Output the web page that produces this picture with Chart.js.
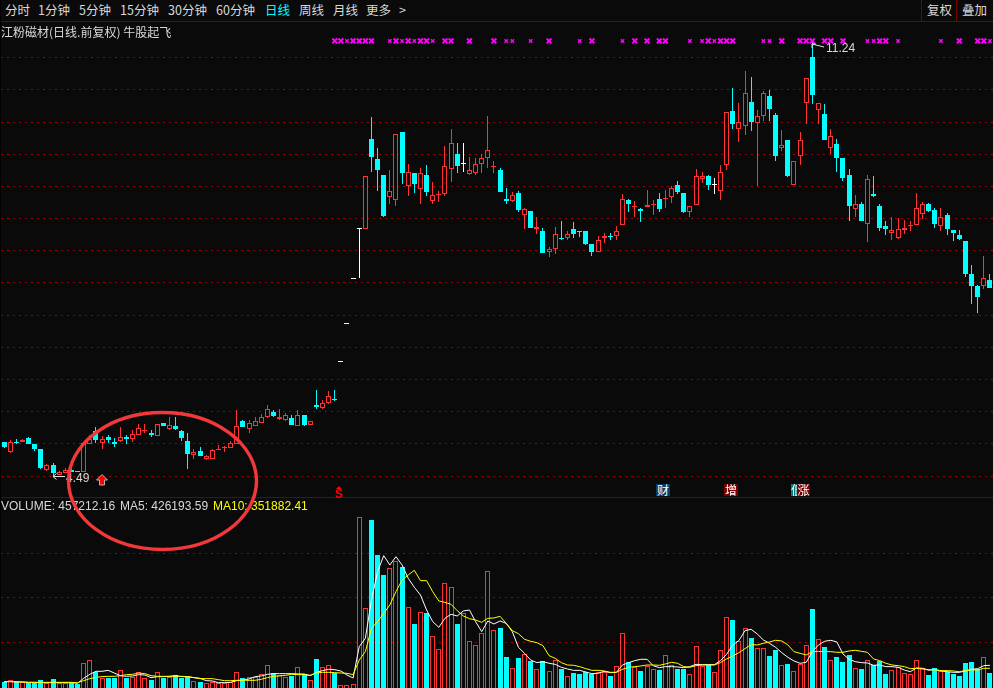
<!DOCTYPE html>
<html lang="zh">
<head>
<meta charset="utf-8">
<title>江粉磁材 日线</title>
<script src="https://cdn.jsdelivr.net/npm/chart.js@4/dist/chart.umd.min.js"></script>
<style>
html,body{margin:0;padding:0;background:#000;width:993px;height:688px;overflow:hidden}
#root{position:relative;width:993px;height:688px;background:#000;overflow:hidden}
canvas{position:absolute;left:1px;background:#0a0a0a}
#head{position:absolute;left:1px;top:0;width:992px;height:21px;background:#0a0a0a;border-bottom:1px solid #7a0000;box-sizing:content-box}
#sep{position:absolute;left:1px;top:497px;width:992px;height:1px;background:#7a0000}
.t{position:absolute;white-space:pre;font-family:"Noto Sans CJK SC","Noto Sans",sans-serif;font-size:12.5px;line-height:14px;color:#d8d8d8}
.m{position:absolute;white-space:pre;font-family:"Liberation Sans",Arial,sans-serif;font-size:12px;line-height:14px;color:#d8d8d8}
.vl{position:absolute;top:0;width:1px;height:21px;background:#7a0000}
.tag{position:absolute;top:484px;height:12px;line-height:12px;font-family:"Noto Sans CJK SC",sans-serif;font-size:12px;color:#fff;text-align:center;overflow:hidden}
svg{position:absolute;left:0;top:0}
</style>
</head>
<body>
<div id="root">
<div id="head"></div>
<canvas id="main" width="992" height="475" style="top:22px;width:992px;height:475px"></canvas>
<canvas id="vol" width="992" height="190" style="top:498px;width:992px;height:190px"></canvas>
<div id="sep"></div>
<div class="vl" style="left:921px"></div>
<div class="vl" style="left:956px"></div>

<div class="t" style="left:5px;top:3px">分时</div>
<div class="t" style="left:38px;top:3px">1分钟</div>
<div class="t" style="left:79px;top:3px">5分钟</div>
<div class="t" style="left:120px;top:3px">15分钟</div>
<div class="t" style="left:168px;top:3px">30分钟</div>
<div class="t" style="left:216px;top:3px">60分钟</div>
<div class="t" style="left:265px;top:3px;color:#00ffff">日线</div>
<div class="t" style="left:299px;top:3px">周线</div>
<div class="t" style="left:333px;top:3px">月线</div>
<div class="t" style="left:366px;top:3px">更多</div>
<div class="t" style="left:399px;top:3px">&gt;</div>
<div class="t" style="left:927px;top:3px">复权</div>
<div class="t" style="left:962px;top:3px">叠加</div>
<div class="t" style="left:1px;top:25px;font-size:12px">江粉磁材(日线.前复权) 牛股起飞</div>

<div class="m" style="left:826px;top:41px">11.24</div>
<div class="m" style="left:66px;top:471px">4.49</div>

<div class="tag" style="left:656px;width:14px;background:#0b3a6b">财</div>
<div class="tag" style="left:724px;width:14px;background:#7a0000">增</div>
<div class="tag" style="left:791px;width:7px;background:#0b7a7a;text-align:left">低</div>
<div class="tag" style="left:797px;width:13px;background:#7a0000">涨</div>
<div class="m" style="left:335px;top:487px;font-weight:bold;font-size:12px;color:#ff0000">S</div>

<div class="m" style="left:1px;top:499px">VOLUME: 457212.16</div>
<div class="m" style="left:120px;top:499px">MA5: 426193.59</div>
<div class="m" style="left:213px;top:499px;color:#ffff00">MA10: 351882.41</div>

<svg width="993" height="688" viewBox="0 0 993 688">
  <polygon points="339,486 336,489 342,489" fill="#ff0000"/>
  <polygon points="102,474.5 107.5,480 104.5,480 104.5,485 99.5,485 99.5,480 96.5,480" fill="#ff0000" stroke="#b0b0b0" stroke-width="1"/>
  <path d="M53 476.5H65M53 476.5L56.5 473.5M53 476.5L56.5 479.5" stroke="#e0e0e0" fill="none" stroke-width="1"/>
  <path d="M812 44L824 47M812 44H816M812 44V48" stroke="#e0e0e0" fill="none" stroke-width="1"/>
  <ellipse cx="162.5" cy="481" rx="94" ry="68.5" fill="none" stroke="#f23838" stroke-width="3.4"/>
</svg>
</div>

<script>
// Daily candles, price in yuan
const opens = [
5.025,4.875,5.03,5.035,5.095,4.995,4.92,4.60,4.67,4.515,
4.55,4.60,4.575,4.57,4.995,5.195,5.02,5.10,5.025,5.04,
5.105,5.07,5.14,5.20,5.17,5.125,5.32,5.225,5.275,5.195,
5.05,4.83,4.885,4.76,4.77,4.91,4.935,4.935,5.00,5.35,
5.225,5.28,5.33,5.42,5.49,5.385,5.375,5.40,5.285,5.445,
5.30,5.60,5.56,5.64,5.70,6.28,6.885,7.58,8.35,8.335,
9.73,9.42,9.17,8.83,8.785,9.84,9.00,9.215,8.96,9.185,
8.77,8.865,8.88,9.275,9.51,9.37,9.19,9.205,9.345,9.44,
9.30,9.26,8.81,8.78,8.905,8.56,8.625,8.335,8.31,7.975,
8.02,8.20,8.195,8.345,8.31,8.30,8.11,7.975,8.20,8.235,
8.225,8.40,8.795,8.675,8.655,8.675,8.71,8.81,8.805,8.83,
9.015,8.905,8.60,8.71,9.11,9.155,9.03,8.925,9.33,10.17,
9.89,9.94,10.31,9.985,10.09,10.40,10.105,9.595,9.715,9.015,
9.48,10.30,11.01,10.185,10.12,9.595,9.655,9.435,9.17,8.645,
8.72,8.41,8.89,8.69,8.39,8.27,8.205,8.32,8.385,8.395,
8.57,8.72,8.64,8.38,8.56,8.33,8.25,8.155,7.64,7.455,
7.445,7.55];
const highs = [
5.025,5.06,5.07,5.07,5.10,4.995,4.92,4.69,4.695,4.58,
4.625,4.61,4.575,5.02,5.135,5.26,5.12,5.135,5.09,5.26,
5.13,5.21,5.315,5.315,5.21,5.315,5.33,5.41,5.41,5.22,
5.17,4.915,4.945,4.825,4.915,4.98,4.97,5.04,5.52,5.365,
5.365,5.42,5.47,5.60,5.53,5.54,5.48,5.445,5.53,5.455,
5.35,5.84,5.675,5.82,5.83,6.28,6.885,7.58,8.35,9.165,
10.08,9.60,9.17,9.25,9.82,9.84,9.35,9.215,9.29,9.34,
9.075,8.935,9.63,9.885,9.67,9.67,9.465,9.435,9.51,10.10,
9.40,9.28,8.97,8.915,8.935,8.67,8.625,8.53,8.36,8.065,
8.375,8.455,8.30,8.44,8.31,8.30,8.11,8.235,8.28,8.28,
8.39,8.875,8.81,8.78,8.67,8.95,8.795,8.905,8.95,9.00,
9.08,8.905,8.70,9.265,9.23,9.185,9.125,9.33,10.16,10.53,
10.29,10.79,10.70,10.185,10.48,10.495,10.14,9.87,9.715,9.40,
9.84,10.69,11.24,10.30,10.28,9.89,9.73,9.435,9.265,8.86,
8.765,9.185,9.155,8.72,8.455,8.53,8.515,8.485,8.455,8.905,
8.765,8.735,8.67,8.67,8.58,8.33,8.33,8.155,7.78,7.47,
7.92,7.64];
const lows = [
4.94,4.86,4.99,5.035,5.00,4.885,4.61,4.58,4.49,4.515,
4.55,4.57,4.56,4.57,4.995,5.02,4.915,5.015,4.955,5.025,
5.005,5.03,5.135,5.175,5.10,5.125,5.28,5.22,5.22,5.045,
4.61,4.76,4.81,4.75,4.77,4.91,4.875,4.935,4.995,5.26,
5.17,5.28,5.33,5.40,5.41,5.375,5.355,5.29,5.285,5.28,
5.30,5.545,5.545,5.625,5.665,6.28,6.885,7.58,7.57,8.335,
9.23,8.935,8.53,8.73,8.69,9.03,8.845,8.905,8.72,8.845,
8.73,8.765,8.845,9.075,9.215,9.23,9.17,9.17,9.215,9.28,
9.215,8.92,8.72,8.765,8.61,8.345,8.36,8.265,7.97,7.91,
7.955,8.175,8.16,8.205,8.22,8.095,7.925,7.975,8.125,8.175,
8.175,8.40,8.595,8.53,8.44,8.675,8.56,8.61,8.67,8.75,
8.89,8.58,8.53,8.71,9.06,8.95,8.89,8.795,9.25,9.90,
9.685,9.795,9.855,9.00,10.01,10.01,9.39,9.545,9.14,9.015,
9.34,9.965,10.28,9.965,9.715,9.51,9.23,9.08,8.455,8.53,
8.47,8.14,8.83,8.30,8.25,8.17,8.19,8.265,8.30,8.395,
8.495,8.61,8.36,8.30,8.25,8.155,8.17,7.595,7.175,7.035,
7.41,7.425];
const closes = [
4.95,5.035,5.02,5.065,5.00,4.92,4.625,4.665,4.55,4.555,
4.60,4.57,4.56,5.02,5.07,5.055,5.08,5.06,4.995,5.11,
5.07,5.16,5.25,5.22,5.135,5.315,5.28,5.30,5.23,5.09,
4.84,4.88,4.81,4.805,4.90,4.92,4.95,5.02,5.285,5.26,
5.33,5.36,5.41,5.545,5.43,5.42,5.445,5.29,5.445,5.30,
5.35,5.58,5.64,5.75,5.675,6.28,6.885,7.58,8.35,9.165,
9.465,9.26,8.545,8.93,9.82,9.215,9.225,9.03,9.21,8.92,
8.87,8.885,9.325,9.68,9.325,9.37,9.26,9.355,9.445,9.56,
9.32,8.92,8.78,8.87,8.64,8.655,8.36,8.375,7.97,8.02,
8.265,8.19,8.265,8.265,8.30,8.11,7.985,8.175,8.235,8.225,
8.30,8.805,8.73,8.70,8.615,8.71,8.73,8.655,8.82,8.98,
8.92,8.61,8.70,9.155,9.155,9.015,9.03,9.23,10.16,9.965,
10.005,10.445,10.00,10.10,10.445,10.20,9.48,9.65,9.155,9.40,
9.725,10.69,10.42,10.30,9.715,9.79,9.435,9.125,8.69,8.73,
8.47,9.12,8.845,8.36,8.345,8.32,8.34,8.36,8.405,8.67,
8.72,8.625,8.42,8.53,8.345,8.28,8.19,7.64,7.455,7.285,
7.575,7.425];

// Volume per day and its two moving averages, in units of 10,000 shares
const volumes = [
10.8,14.6,10.8,10,9.3,9.3,14.6,7.8,16.8,7.8,
7.8,9.3,7.1,52.8,59.5,33.3,20.6,20.6,20.6,37,
20.6,21.3,32.5,19.1,15.3,32.5,20.6,21.3,25.8,20.6,
22.8,12.3,10.8,7.8,11.6,7.8,7.8,10.8,32.5,19.8,
21.3,22.8,28,48.3,30.3,25.8,21.3,25,43.8,28.8,
14.6,62.5,43.8,48.3,31,3.3,3.3,6.3,380.8,176.3,
374.8,296.2,251.2,266.2,282.7,269.2,178.6,141.1,167.4,165.9,
113.4,84.2,232.5,223.5,141.1,165.1,102.2,94,120.2,259.5,
126.9,132.2,67,41.5,64.7,73,58,40,57.3,34.8,
59.5,40,23.5,31,28.8,32.5,29.5,33.3,33.3,25,
46,120.2,55,45.3,35.5,47.5,40,37.8,70.7,49,
40,40,28,91,46.8,49.8,32.5,82,156.1,150.1,
102.2,131.4,109.7,86.5,86.5,69.3,82.7,48.3,51.3,34.8,
51.3,93.2,174.9,106.7,89.5,59.5,67,55.8,71.5,41.5,
40,59.5,49,58,28.8,37,43.8,30.3,28,59.5,
42.3,26.6,42.3,35.6,33.3,28.8,24.3,53.5,55.8,40,
66.3,31];
const ma5 = [
11.6,11.6,11.6,10.8,10,10,10,10,10,10,
10,10,7.8,19.1,28,34.8,34.8,37,31,25,
23.5,24.3,27.3,26.5,20.6,22.8,22.8,23.5,25,22.8,
22.8,20.6,19.1,13.8,13.1,9.3,9.3,10,13.8,15.3,
17.6,22.8,24.3,28,29.5,29.5,29.5,29.5,28.8,28.8,
25,32.5,36.3,39.3,38.5,35.5,26.5,19.8,90.2,108.9,
195,258.7,294.7,273.7,292.4,273.7,243.8,223.5,206.3,172.6,
146.4,133.6,153.9,162.9,159.1,170.4,172.6,146.4,123.9,147.9,
141.1,147.9,142.6,123.9,88.7,75.2,60.2,54.3,56.5,52.8,
50.5,43.8,40,37,37,33.3,29.5,30.3,34.8,31.8,
32.5,49,54.3,58.8,61.8,61.8,47.5,43,45.3,45.3,
44.5,43,45.3,50.5,49.8,49.8,49.8,58.8,73,94,
103.7,126.2,129.2,118.7,105.2,97.7,88.7,76.7,66.3,58,
52.8,55,79,94,102.2,104.5,100.7,73.8,61.8,56.5,
54.3,53.5,48.3,49,45.3,45.3,43.8,37.8,34,42.3,
41.5,37,39.3,35.6,34,32.5,32.5,35.6,39.3,40.8,
47.5,48.3];
const ma10 = [
11.6,11.6,10.8,10.8,10,10,9.3,9.3,9.3,9.3,
9.3,9.3,9.3,13.8,18.3,21.3,22.8,23.5,23.5,25,
27.3,28,31,29.5,25,23.5,23.5,23.5,23.5,23.5,
22.8,20.6,18.3,18.3,18.3,16.1,13.8,13.8,14.6,14.6,
14.6,14.6,16.8,20.6,23.5,24.3,25.8,28,27.3,27.3,
25.8,31,32.5,32.5,31.8,31,30.3,27.3,60.2,79,
131.4,146.4,165.1,183.8,213.8,240,251.2,261.7,238.5,238.5,
213.8,192.8,189.8,185.3,171.1,159.1,153.1,150.1,144.9,153.9,
154.6,158.4,142.6,126.2,119.4,106.7,102.2,99.2,92.5,70,
64,54.3,49,48.3,45.3,40.8,37,37,35.5,32.5,
32.5,39.3,43.8,45.3,46.8,49,49,48.3,51.3,55,
52.8,45.3,43.8,47.5,49,49,49,54.3,62.5,69.3,
76.7,85.7,94.7,94,97.7,100.7,104.5,103,94,79,
75.2,71.5,79,79.7,79,79,77.5,77.5,80.5,82,
79.7,77.5,62.5,58.8,52.8,49,47.5,45.3,40.8,41.5,
40,38.6,37.8,36.3,36.3,35.6,34,36.3,37.8,37.8,
41.5,41.5];

// Zero-based bar indexes that carry a signal cross in the row above the candles
const signalDaysStrong = [54,55,57,58,59,60,64,66,68,69,72,73,76,80,89,96,103,105,107,108,115,117,118,119,127,130,131,132,134,135,137,143,144,156,159,160];
const signalDaysWeak = [56,63,65,67,70,82,83,86,94,101,112,114,116,124,125,141,142,146,153,161];
const signalPrice = 11.26;

const priceTicks = [4.5,5,5.5,6,6.5,7,7.5,8,8.5,9,9.5,10,10.5,11];
const volumeTicks = [100,200,300];
const priceMin = 4.174, priceMax = 11.555;
const volumeMin = -2.7, volumeMax = 424.2, volumeBase = -20;

const RED = '#ff3232', CYAN = '#00ffff', WHITE = '#ffffff', BG = '#0a0a0a', GRID = '#a00000';

const days = opens.map((_, i) => String(i + 1));
const candleColor = i => closes[i] > opens[i] ? RED : closes[i] === opens[i] ? WHITE : CYAN;
const bodyFill = i => closes[i] > opens[i] ? BG : candleColor(i);
const volumeColor = i => closes[i] >= opens[i] ? RED : CYAN;
const volumeFill = i => closes[i] >= opens[i] ? BG : CYAN;

// keeps every bar on whole device pixels, so thin wicks stay one pixel wide
const snapBars = {
  id: 'snapBars',
  beforeDatasetsDraw(chart) {
    chart.getSortedVisibleDatasetMetas().forEach(meta => {
      if (meta.type !== 'bar') return;
      meta.data.forEach(el => {
        el.x = Math.floor(el.x) + 0.5;
        el.y = Math.round(el.y);
        el.base = Math.round(el.base);
        if (Math.abs(el.base - el.y) < 1) el.base = el.y + 1;
      });
    });
  }
};

const fixedTicks = values => scale => { scale.ticks = values.map(value => ({ value })); };
const yAxis = (min, max, values) => ({
  min, max,
  afterBuildTicks: fixedTicks(values),
  ticks: { display: false, padding: 0 },
  grid: { color: GRID, lineWidth: 1, drawTicks: false, tickLength: 0 },
  border: { display: false, dash: [2, 4] }
});
const baseOptions = {
  responsive: false,
  animation: false,
  devicePixelRatio: 1,
  events: [],
  layout: { padding: 0, autoPadding: false },
  plugins: { legend: { display: false }, tooltip: { enabled: false } },
  datasets: { bar: { grouped: false } }
};
const pointsAt = list => days.map((_, i) => list.includes(i) ? signalPrice : null);

new Chart(document.getElementById('main'), {
  type: 'bar',
  plugins: [snapBars],
  data: {
    labels: days,
    datasets: [
      { type: 'line', label: 'signal', data: pointsAt(signalDaysStrong), showLine: false, order: 0,
        pointStyle: 'crossRot', pointRadius: 3.4, pointBorderWidth: 2, pointBorderColor: '#ff00ff', pointBackgroundColor: '#ff00ff' },
      { type: 'line', label: 'signal weak', data: pointsAt(signalDaysWeak), showLine: false, order: 0,
        pointStyle: 'crossRot', pointRadius: 2.4, pointBorderWidth: 1.4, pointBorderColor: '#ff00ff', pointBackgroundColor: '#ff00ff' },
      { label: 'body', order: 1, data: days.map((_, i) => [opens[i], closes[i]]),
        barThickness: 5, borderWidth: 1, borderSkipped: false, inflateAmount: 0,
        backgroundColor: days.map((_, i) => bodyFill(i)), borderColor: days.map((_, i) => candleColor(i)) },
      { label: 'wick', order: 2, data: days.map((_, i) => [lows[i], highs[i]]),
        barThickness: 1, borderWidth: 0, inflateAmount: 0,
        backgroundColor: days.map((_, i) => candleColor(i)) }
    ]
  },
  options: { ...baseOptions, scales: { x: { display: false, grid: { display: false } }, y: yAxis(priceMin, priceMax, priceTicks) } }
});

new Chart(document.getElementById('vol'), {
  type: 'bar',
  plugins: [snapBars],
  data: {
    labels: days,
    datasets: [
      { type: 'line', label: 'MA10', data: ma10, order: 0, borderColor: '#ffff00', borderWidth: 1, pointRadius: 0, tension: 0 },
      { type: 'line', label: 'MA5', data: ma5, order: 1, borderColor: '#ffffff', borderWidth: 1, pointRadius: 0, tension: 0 },
      { label: 'VOLUME', data: volumes, base: volumeBase, order: 2,
        barThickness: 5, borderWidth: 1, borderSkipped: false, inflateAmount: 0,
        backgroundColor: days.map((_, i) => volumeFill(i)), borderColor: days.map((_, i) => volumeColor(i)) }
    ]
  },
  options: { ...baseOptions, scales: { x: { display: false, grid: { display: false } }, y: yAxis(volumeMin, volumeMax, volumeTicks) } }
});
</script>
</body>
</html>
